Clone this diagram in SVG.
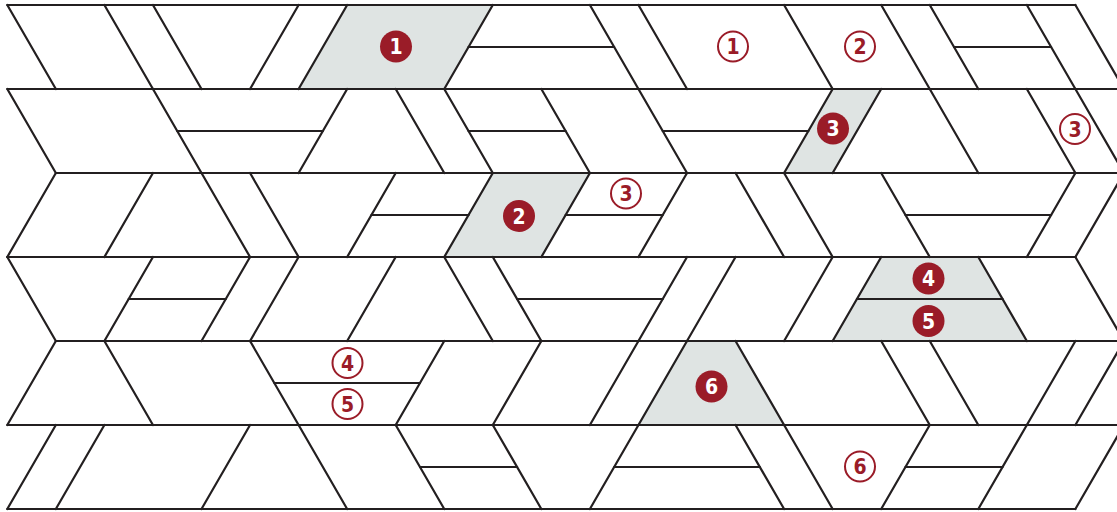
<svg xmlns="http://www.w3.org/2000/svg" width="1117" height="512" viewBox="0 0 1117 512">
<style>
.bg{fill:#ffffff}
.sh{fill:#dfe4e3;stroke:none}
.ln line{stroke:#231f20;stroke-width:2.2;stroke-linecap:round}
.fc{fill:#9a1c28}
.oc{fill:none;stroke:#9a1c28;stroke-width:2}
.ft{fill:#ffffff;font-family:"Liberation Sans Narrow","DejaVu Sans Condensed","Liberation Sans",sans-serif;font-weight:bold;font-size:21px;text-anchor:middle}
.ot{fill:#9a1c28;font-family:"Liberation Sans Narrow","DejaVu Sans Condensed","Liberation Sans",sans-serif;font-weight:bold;font-size:21px;text-anchor:middle}
</style>
<rect class="bg" x="0" y="0" width="1117" height="512"/>
<g id="tile-1"><polygon class="sh" points="347.15,5 492.8,5 444.25,89 298.6,89"/></g>
<g id="tile-3"><polygon class="sh" points="832.65,89 881.2,89 832.65,173 784.1,173"/></g>
<g id="tile-2"><polygon class="sh" points="492.8,173 589.9,173 541.35,257 444.25,257"/></g>
<g id="tile-45"><polygon class="sh" points="881.2,257 978.3,257 1026.85,341 832.65,341"/></g>
<g id="tile-6"><polygon class="sh" points="687,341 735.55,341 784.1,425 638.45,425"/></g>
<g id="connectors" class="ln">
<line x1="7.3" y1="5" x2="1075.4" y2="5"/>
<line x1="7.3" y1="89" x2="1117" y2="89"/>
<line x1="55.85" y1="173" x2="1117" y2="173"/>
<line x1="7.3" y1="257" x2="1075.4" y2="257"/>
<line x1="55.85" y1="341" x2="1117" y2="341"/>
<line x1="7.3" y1="425" x2="1117" y2="425"/>
<line x1="7.3" y1="509" x2="1075.4" y2="509"/>
<!-- row 0 -->
<line x1="7.3" y1="5" x2="55.85" y2="89"/>
<line x1="104.4" y1="5" x2="152.95" y2="89"/>
<line x1="152.95" y1="5" x2="201.5" y2="89"/>
<line x1="298.6" y1="5" x2="250.05" y2="89"/>
<line x1="347.15" y1="5" x2="298.6" y2="89"/>
<line x1="492.8" y1="5" x2="444.25" y2="89"/>
<line x1="468.53" y1="47" x2="614.18" y2="47"/>
<line x1="589.9" y1="5" x2="638.45" y2="89"/>
<line x1="638.45" y1="5" x2="687" y2="89"/>
<line x1="784.1" y1="5" x2="832.65" y2="89"/>
<line x1="881.2" y1="5" x2="929.75" y2="89"/>
<line x1="929.75" y1="5" x2="978.3" y2="89"/>
<line x1="954.03" y1="47" x2="1051.13" y2="47"/>
<line x1="1026.85" y1="5" x2="1075.4" y2="89"/>
<line x1="1075.4" y1="5" x2="1123.95" y2="89"/>
<!-- row 1 -->
<line x1="7.3" y1="89" x2="55.85" y2="173"/>
<line x1="152.95" y1="89" x2="201.5" y2="173"/>
<line x1="177.23" y1="131" x2="322.88" y2="131"/>
<line x1="347.15" y1="89" x2="298.6" y2="173"/>
<line x1="395.7" y1="89" x2="444.25" y2="173"/>
<line x1="444.25" y1="89" x2="492.8" y2="173"/>
<line x1="468.53" y1="131" x2="565.63" y2="131"/>
<line x1="541.35" y1="89" x2="589.9" y2="173"/>
<line x1="638.45" y1="89" x2="687" y2="173"/>
<line x1="662.73" y1="131" x2="808.38" y2="131"/>
<line x1="832.65" y1="89" x2="784.1" y2="173"/>
<line x1="881.2" y1="89" x2="832.65" y2="173"/>
<line x1="929.75" y1="89" x2="978.3" y2="173"/>
<line x1="1026.85" y1="89" x2="1075.4" y2="173"/>
<line x1="1075.4" y1="89" x2="1123.95" y2="173"/>
<!-- row 2 -->
<line x1="55.85" y1="173" x2="7.3" y2="257"/>
<line x1="152.95" y1="173" x2="104.4" y2="257"/>
<line x1="201.5" y1="173" x2="250.05" y2="257"/>
<line x1="250.05" y1="173" x2="298.6" y2="257"/>
<line x1="395.7" y1="173" x2="347.15" y2="257"/>
<line x1="371.43" y1="215" x2="468.53" y2="215"/>
<line x1="492.8" y1="173" x2="444.25" y2="257"/>
<line x1="589.9" y1="173" x2="541.35" y2="257"/>
<line x1="565.63" y1="215" x2="662.73" y2="215"/>
<line x1="687" y1="173" x2="638.45" y2="257"/>
<line x1="735.55" y1="173" x2="784.1" y2="257"/>
<line x1="784.1" y1="173" x2="832.65" y2="257"/>
<line x1="881.2" y1="173" x2="929.75" y2="257"/>
<line x1="905.48" y1="215" x2="1051.13" y2="215"/>
<line x1="1075.4" y1="173" x2="1026.85" y2="257"/>
<line x1="1123.95" y1="173" x2="1075.4" y2="257"/>
<!-- row 3 -->
<line x1="7.3" y1="257" x2="55.85" y2="341"/>
<line x1="152.95" y1="257" x2="104.4" y2="341"/>
<line x1="128.68" y1="299" x2="225.78" y2="299"/>
<line x1="250.05" y1="257" x2="201.5" y2="341"/>
<line x1="298.6" y1="257" x2="250.05" y2="341"/>
<line x1="395.7" y1="257" x2="347.15" y2="341"/>
<line x1="444.25" y1="257" x2="492.8" y2="341"/>
<line x1="492.8" y1="257" x2="541.35" y2="341"/>
<line x1="517.08" y1="299" x2="662.73" y2="299"/>
<line x1="687" y1="257" x2="638.45" y2="341"/>
<line x1="735.55" y1="257" x2="687" y2="341"/>
<line x1="832.65" y1="257" x2="784.1" y2="341"/>
<line x1="881.2" y1="257" x2="832.65" y2="341"/>
<line x1="856.93" y1="299" x2="1002.58" y2="299"/>
<line x1="978.3" y1="257" x2="1026.85" y2="341"/>
<line x1="1075.4" y1="257" x2="1123.95" y2="341"/>
<!-- row 4 -->
<line x1="55.85" y1="341" x2="7.3" y2="425"/>
<line x1="104.4" y1="341" x2="152.95" y2="425"/>
<line x1="250.05" y1="341" x2="298.6" y2="425"/>
<line x1="274.33" y1="383" x2="419.98" y2="383"/>
<line x1="444.25" y1="341" x2="395.7" y2="425"/>
<line x1="541.35" y1="341" x2="492.8" y2="425"/>
<line x1="638.45" y1="341" x2="589.9" y2="425"/>
<line x1="687" y1="341" x2="638.45" y2="425"/>
<line x1="735.55" y1="341" x2="784.1" y2="425"/>
<line x1="881.2" y1="341" x2="929.75" y2="425"/>
<line x1="929.75" y1="341" x2="978.3" y2="425"/>
<line x1="1075.4" y1="341" x2="1026.85" y2="425"/>
<line x1="1123.95" y1="341" x2="1075.4" y2="425"/>
<!-- row 5 -->
<line x1="55.85" y1="425" x2="7.3" y2="509"/>
<line x1="104.4" y1="425" x2="55.85" y2="509"/>
<line x1="250.05" y1="425" x2="201.5" y2="509"/>
<line x1="298.6" y1="425" x2="347.15" y2="509"/>
<line x1="395.7" y1="425" x2="444.25" y2="509"/>
<line x1="419.98" y1="467" x2="517.08" y2="467"/>
<line x1="492.8" y1="425" x2="541.35" y2="509"/>
<line x1="638.45" y1="425" x2="589.9" y2="509"/>
<line x1="614.18" y1="467" x2="759.83" y2="467"/>
<line x1="735.55" y1="425" x2="784.1" y2="509"/>
<line x1="784.1" y1="425" x2="832.65" y2="509"/>
<line x1="929.75" y1="425" x2="881.2" y2="509"/>
<line x1="905.48" y1="467" x2="1002.58" y2="467"/>
<line x1="1026.85" y1="425" x2="978.3" y2="509"/>
<line x1="1123.95" y1="425" x2="1075.4" y2="509"/>
</g>
<g id="label-f1"><circle class="fc" cx="396" cy="46.5" r="16"/><text class="ft" x="396" y="54">1</text></g>
<g id="label-f2"><circle class="fc" cx="519" cy="216" r="16"/><text class="ft" x="519" y="223.5">2</text></g>
<g id="label-f3"><circle class="fc" cx="833" cy="128.5" r="16"/><text class="ft" x="833" y="136">3</text></g>
<g id="label-f4"><circle class="fc" cx="928.5" cy="278.5" r="16"/><text class="ft" x="928.5" y="286">4</text></g>
<g id="label-f5"><circle class="fc" cx="928.5" cy="321" r="16"/><text class="ft" x="928.5" y="328.5">5</text></g>
<g id="label-f6"><circle class="fc" cx="711.5" cy="386.5" r="16"/><text class="ft" x="711.5" y="394">6</text></g>
<g id="label-o1"><circle class="oc" cx="733" cy="46.5" r="15"/><text class="ot" x="733" y="54">1</text></g>
<g id="label-o2"><circle class="oc" cx="860" cy="46.5" r="15"/><text class="ot" x="860" y="54">2</text></g>
<g id="label-o3a"><circle class="oc" cx="1075" cy="129" r="15"/><text class="ot" x="1075" y="136.5">3</text></g>
<g id="label-o3b"><circle class="oc" cx="626" cy="193.5" r="15"/><text class="ot" x="626" y="201">3</text></g>
<g id="label-o4"><circle class="oc" cx="347.5" cy="363" r="15"/><text class="ot" x="347.5" y="370.5">4</text></g>
<g id="label-o5"><circle class="oc" cx="347.5" cy="404" r="15"/><text class="ot" x="347.5" y="411.5">5</text></g>
<g id="label-o6"><circle class="oc" cx="860" cy="466.5" r="15"/><text class="ot" x="860" y="474">6</text></g>
</svg>
